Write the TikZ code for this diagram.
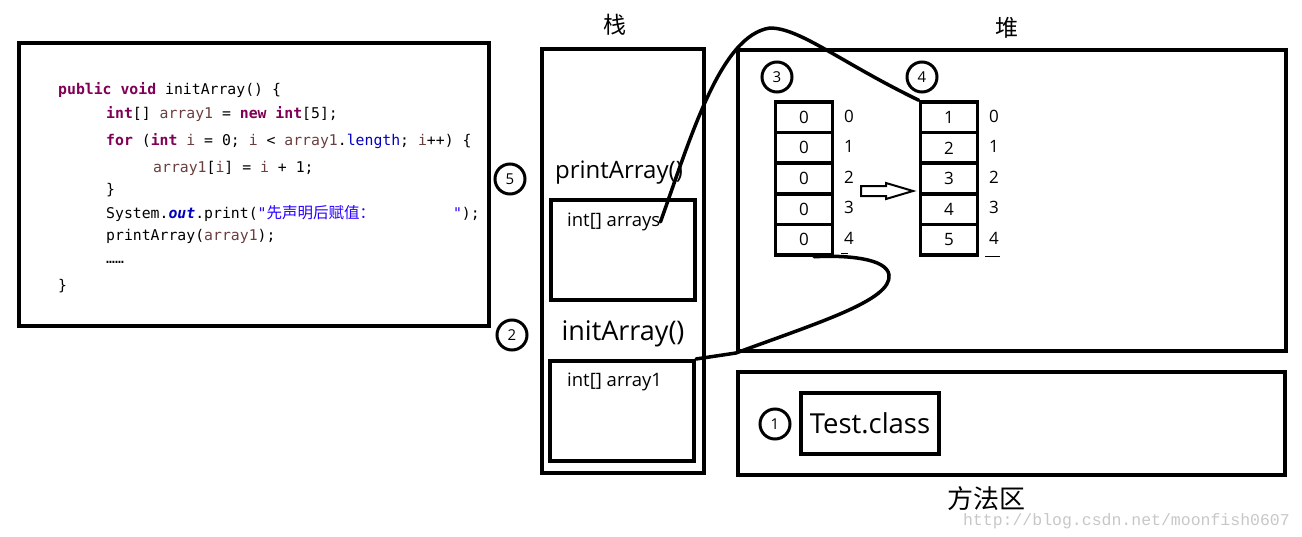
\documentclass[tikz,border=0pt]{standalone}
\usepackage{fontspec}
\setmainfont{Open Sans}
\setmonofont{DejaVu Sans Mono}
\newfontfamily\cjk{Noto Sans CJK SC}
\newfontfamily\markfont{Liberation Mono}
\definecolor{kwcol}{HTML}{7F0055}
\definecolor{varcol}{HTML}{6A3E3E}
\definecolor{fldcol}{HTML}{0000C0}
\definecolor{strcol}{HTML}{2A00FF}
\newcommand{\kw}[1]{\textcolor{kwcol}{\textbf{#1}}}
\newcommand{\lv}[1]{\textcolor{varcol}{#1}}

\begin{document}
\begin{tikzpicture}[x=1pt,y=-1pt]
\tikzset{BoxStyle/.style = {draw, line width=4pt, inner sep=0pt},
  NumStyle/.style = {circle, draw, line width=3pt, minimum size=30pt, inner sep=0pt, font=\fontsize{15}{15}\selectfont},
  CellStyle/.style = {draw, line width=3.5pt, minimum width=57pt, minimum height=30.6pt, inner sep=0pt, font=\fontsize{17}{17}\selectfont},
  IdxStyle/.style = {inner sep=0pt, font=\fontsize{17}{17}\selectfont},
  CodeStyle/.style = {anchor=base west, inner sep=0pt, font=\ttfamily\fontsize{14.8}{14.8}\selectfont},
  LinkStyle/.style = {line width=3.5pt, line cap=round}}
\useasboundingbox (0,0) rectangle (1302,536);
\node[BoxStyle, minimum width=470pt, minimum height=283pt] (code) at (254,184.5) {};
\node[CodeStyle] (l1) at (58,94) {\kw{public} \kw{void} initArray() \{};
\node[CodeStyle] (l2) at (106,118) {\kw{int}[] \lv{array1} = \kw{new} \kw{int}[5];};
\node[CodeStyle] (l3) at (106,145) {\kw{for} (\kw{int} \lv{i} = 0; \lv{i} < \lv{array1}.\textcolor{fldcol}{length}; \lv{i}++) \{};
\node[CodeStyle] (l4) at (153,172) {\lv{array1}[\lv{i}] = \lv{i} + 1;};
\node[CodeStyle] (l5) at (106,194) {\}};
\node[CodeStyle] (l6) at (106,218) {System.\textcolor{fldcol}{\textbf{\textit{out}}}.print(\textcolor{strcol}{"{\cjk\fontsize{15.5}{15.5}\selectfont 先声明后赋值：}\hspace{78pt}"});};
\node[CodeStyle] (l7) at (106,240) {printArray(\lv{array1});};
\node[CodeStyle] (l8) at (106,263) {……};
\node[CodeStyle] (l9) at (58,290) {\}};
\node[NumStyle] (c5) at (510,179) {5};
\node[NumStyle] (c2) at (512,335) {2};
\node[font=\cjk\fontsize{23}{23}\selectfont] (stacktitle) at (615,25) {栈};
\node[BoxStyle, minimum width=162pt, minimum height=424pt] (stack) at (623,261) {};
\node[font=\fontsize{24}{24}\selectfont] (plabel) at (619,173) {printArray()};
\node[BoxStyle, minimum width=144pt, minimum height=100pt] (pframe) at (623,250) {};
\node[anchor=west, inner sep=0pt, font=\fontsize{18.5}{18.5}\selectfont] (arrays) at (567,222) {int[] arrays};
\node[font=\fontsize{27}{27}\selectfont] (ilabel) at (623,334) {initArray()};
\node[BoxStyle, minimum width=144pt, minimum height=100pt] (iframe) at (622,411) {};
\node[anchor=west, inner sep=0pt, font=\fontsize{18.5}{18.5}\selectfont] (array1) at (567,382) {int[] array1};
\node[font=\cjk\fontsize{23}{23}\selectfont] (heaptitle) at (1007,28) {堆};
\node[BoxStyle, minimum width=548pt, minimum height=301pt] (heap) at (1012,200.5) {};
\node[NumStyle] (c3) at (777,77) {3};
\node[NumStyle] (c4) at (922,77) {4};
\foreach \v [count=\i from 0] in {0,0,0,0,0}
  \node[CellStyle] (a\i) at (804,117.3+30.6*\i) {\v};
\foreach \v [count=\i from 0] in {1,2,3,4,5}
  \node[CellStyle] (b\i) at (949,117.3+30.6*\i) {\v};
\foreach \i in {0,...,4} {
  \node[IdxStyle] (ia\i) at (849,116+30.6*\i) {\i};
  \node[IdxStyle] (ib\i) at (994,116+30.6*\i) {\i};
}
\draw[line width=1pt] (841,253) -- (848,253);
\draw[line width=1pt] (985,256) -- (1000,256);
\coordinate (arr) at (861,191);
\draw[line width=2pt, shift={(arr)}] (0,-5) -- (25,-5) -- (25,-8) -- (52,0) -- (25,8) -- (25,5) -- (0,5) -- cycle;
\node[BoxStyle, minimum width=547pt, minimum height=103pt] (method) at (1011.5,423.5) {};
\node[NumStyle] (c1) at (775,424) {1};
\node[BoxStyle, minimum width=138pt, minimum height=61pt, font=\fontsize{27.5}{27.5}\selectfont] (testclass) at (870,423.5) {Test.class};
\node[font=\cjk\fontsize{26}{26}\selectfont] (methodtitle) at (986,499) {方法区};
\node[anchor=east, inner sep=0pt, text=black!22, font=\markfont\fontsize{16.5}{16.5}\selectfont] (mark) at (1290,521) {http://blog.csdn.net/moonfish0607};
\draw[LinkStyle] (arrays.east) .. controls (690,140) and (720,35) .. (770,28) .. controls (800,28) and (840,62) .. (b0.north west);
\draw[LinkStyle] (iframe.north east) -- (heap.south west) .. controls (820,322) and (892,300) .. (889,275) .. controls (887,258) and (845,255) .. ([xshift=10pt]a4.south);
\end{tikzpicture}
\end{document}
